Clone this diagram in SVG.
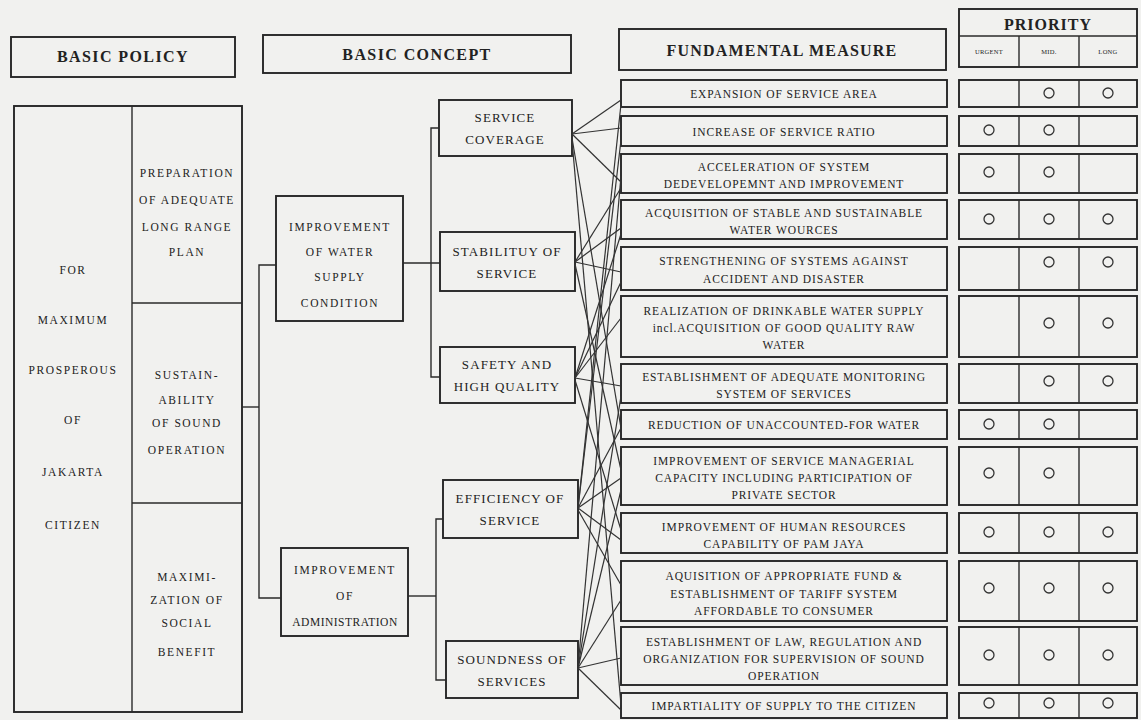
<svg xmlns="http://www.w3.org/2000/svg" width="1141" height="720" viewBox="0 0 1141 720">
<style>
.bg{fill:#f1f1ef}
.box{fill:none;stroke:#262626;stroke-width:1.9}
.thin{fill:none;stroke:#2a2a2a;stroke-width:1.4}
.ln{fill:none;stroke:#333;stroke-width:1.2}
.t{font-family:"Liberation Serif",serif;fill:#222;text-anchor:middle}
.h{font-size:16px;font-weight:bold;letter-spacing:1.4px}
.m{font-size:11.5px;letter-spacing:0.9px}
.c{font-size:13px;letter-spacing:1.1px}
.p{font-size:11.5px;letter-spacing:1.6px}
.s{font-size:6.5px;letter-spacing:0.3px}
.o{fill:none;stroke:#333;stroke-width:1.3}
</style>
<rect class="bg" x="0" y="0" width="1141" height="720"/>

<g id="header-basic-policy"><rect class="box" x="11" y="37" width="224" height="40"/><text class="t h" x="123" y="62">BASIC POLICY</text></g>
<g id="header-basic-concept"><rect class="box" x="263" y="35" width="308" height="38"/><text class="t h" x="417" y="60">BASIC CONCEPT</text></g>
<g id="header-fundamental-measure"><rect class="box" x="619" y="29" width="327" height="41"/><text class="t h" x="782" y="56" style="font-size:16px;letter-spacing:1.2px">FUNDAMENTAL MEASURE</text></g>
<g id="header-priority">
<rect class="box" x="959" y="9" width="178" height="58"/>
<line class="thin" x1="959" y1="36" x2="1137" y2="36"/>
<line class="thin" x1="1019" y1="36" x2="1019" y2="67"/>
<line class="thin" x1="1079" y1="36" x2="1079" y2="67"/>
<text class="t h" x="1048" y="30" style="font-size:16px;letter-spacing:1px">PRIORITY</text>
<text class="t s" x="989" y="54">URGENT</text>
<text class="t s" x="1049" y="54">MID.</text>
<text class="t s" x="1108" y="54">LONG</text>
</g>

<g id="basic-policy">
<rect class="box" x="14" y="106" width="228" height="606"/>
<line class="thin" x1="132" y1="106" x2="132" y2="712"/>
<line class="thin" x1="132" y1="303" x2="242" y2="303"/>
<line class="thin" x1="132" y1="503" x2="242" y2="503"/>
<text class="t p" x="73" y="274">FOR</text>
<text class="t p" x="73" y="324">MAXIMUM</text>
<text class="t p" x="73" y="374">PROSPEROUS</text>
<text class="t p" x="73" y="424">OF</text>
<text class="t p" x="73" y="476">JAKARTA</text>
<text class="t p" x="73" y="529">CITIZEN</text>
<text class="t p" x="187" y="177">PREPARATION</text>
<text class="t p" x="187" y="204">OF ADEQUATE</text>
<text class="t p" x="187" y="231">LONG RANGE</text>
<text class="t p" x="187" y="256">PLAN</text>
<text class="t p" x="187" y="379">SUSTAIN-</text>
<text class="t p" x="187" y="404">ABILITY</text>
<text class="t p" x="187" y="427">OF SOUND</text>
<text class="t p" x="187" y="454">OPERATION</text>
<text class="t p" x="187" y="581">MAXIMI-</text>
<text class="t p" x="187" y="604">ZATION OF</text>
<text class="t p" x="187" y="627">SOCIAL</text>
<text class="t p" x="187" y="656">BENEFIT</text>
</g>

<g id="concept-water-supply"><rect class="box" x="276" y="196" width="127" height="125"/>
<text class="t p" x="340" y="231">IMPROVEMENT</text><text class="t p" x="340" y="256">OF WATER</text><text class="t p" x="340" y="281">SUPPLY</text><text class="t p" x="340" y="307">CONDITION</text></g>
<g id="concept-administration"><rect class="box" x="281" y="548" width="127" height="88"/>
<text class="t p" x="345" y="574">IMPROVEMENT</text><text class="t p" x="345" y="600">OF</text><text class="t p" x="345" y="626" style="letter-spacing:0.5px">ADMINISTRATION</text></g>

<g id="concept-service-coverage"><rect class="box" x="439" y="100" width="133" height="56"/>
<text class="t c" x="505" y="122">SERVICE</text><text class="t c" x="505" y="144">COVERAGE</text></g>
<g id="concept-stability"><rect class="box" x="440" y="232" width="135" height="59"/>
<text class="t c" x="507" y="256">STABILITUY OF</text><text class="t c" x="507" y="278">SERVICE</text></g>
<g id="concept-safety"><rect class="box" x="440" y="347" width="135" height="56"/>
<text class="t c" x="507" y="369">SAFETY AND</text><text class="t c" x="507" y="391">HIGH QUALITY</text></g>
<g id="concept-efficiency"><rect class="box" x="443" y="480" width="135" height="58"/>
<text class="t c" x="510" y="503">EFFICIENCY OF</text><text class="t c" x="510" y="525">SERVICE</text></g>
<g id="concept-soundness"><rect class="box" x="446" y="641" width="132" height="57"/>
<text class="t c" x="512" y="664">SOUNDNESS OF</text><text class="t c" x="512" y="686">SERVICES</text></g>

<g id="measures">
<g id="m1"><rect class="box" x="621" y="80" width="326" height="27"/><text class="t m" x="784" y="98">EXPANSION OF SERVICE AREA</text></g>
<g id="m2"><rect class="box" x="621" y="116" width="326" height="30"/><text class="t m" x="784" y="136">INCREASE OF SERVICE RATIO</text></g>
<g id="m3"><rect class="box" x="621" y="154" width="326" height="39"/><text class="t m" x="784" y="171">ACCELERATION OF SYSTEM</text><text class="t m" x="784" y="188">DEDEVELOPEMNT AND IMPROVEMENT</text></g>
<g id="m4"><rect class="box" x="621" y="200" width="326" height="39"/><text class="t m" x="784" y="217">ACQUISITION OF STABLE AND SUSTAINABLE</text><text class="t m" x="784" y="234">WATER WOURCES</text></g>
<g id="m5"><rect class="box" x="621" y="247" width="326" height="43"/><text class="t m" x="784" y="265">STRENGTHENING OF SYSTEMS AGAINST</text><text class="t m" x="784" y="283">ACCIDENT AND DISASTER</text></g>
<g id="m6"><rect class="box" x="621" y="296" width="326" height="61"/><text class="t m" x="784" y="315">REALIZATION OF DRINKABLE WATER SUPPLY</text><text class="t m" x="784" y="332">incl.ACQUISITION OF GOOD QUALITY RAW</text><text class="t m" x="784" y="349">WATER</text></g>
<g id="m7"><rect class="box" x="621" y="364" width="326" height="39"/><text class="t m" x="784" y="381">ESTABLISHMENT OF ADEQUATE MONITORING</text><text class="t m" x="784" y="398">SYSTEM OF SERVICES</text></g>
<g id="m8"><rect class="box" x="621" y="410" width="326" height="29"/><text class="t m" x="784" y="429">REDUCTION OF UNACCOUNTED-FOR WATER</text></g>
<g id="m9"><rect class="box" x="621" y="447" width="326" height="58"/><text class="t m" x="784" y="465">IMPROVEMENT OF SERVICE MANAGERIAL</text><text class="t m" x="784" y="482">CAPACITY INCLUDING PARTICIPATION OF</text><text class="t m" x="784" y="499">PRIVATE SECTOR</text></g>
<g id="m10"><rect class="box" x="621" y="513" width="326" height="40"/><text class="t m" x="784" y="531">IMPROVEMENT OF HUMAN RESOURCES</text><text class="t m" x="784" y="548">CAPABILITY OF PAM JAYA</text></g>
<g id="m11"><rect class="box" x="621" y="561" width="326" height="60"/><text class="t m" x="784" y="580">AQUISITION OF APPROPRIATE FUND &amp;</text><text class="t m" x="784" y="598">ESTABLISHMENT OF TARIFF SYSTEM</text><text class="t m" x="784" y="615">AFFORDABLE TO CONSUMER</text></g>
<g id="m12"><rect class="box" x="621" y="627" width="326" height="58"/><text class="t m" x="784" y="646">ESTABLISHMENT OF LAW, REGULATION AND</text><text class="t m" x="784" y="663">ORGANIZATION FOR SUPERVISION OF SOUND</text><text class="t m" x="784" y="680">OPERATION</text></g>
<g id="m13"><rect class="box" x="621" y="693" width="326" height="25"/><text class="t m" x="784" y="710">IMPARTIALITY OF SUPPLY TO THE CITIZEN</text></g>
</g>

<g id="priority-rows">
<g id="pr1"><rect class="box" x="959" y="80" width="178" height="27"/><line class="thin" x1="1019" y1="80" x2="1019" y2="107"/><line class="thin" x1="1079" y1="80" x2="1079" y2="107"/><circle class="o" cx="1049" cy="93" r="5"/><circle class="o" cx="1108" cy="93" r="5"/></g>
<g id="pr2"><rect class="box" x="959" y="116" width="178" height="30"/><line class="thin" x1="1019" y1="116" x2="1019" y2="146"/><line class="thin" x1="1079" y1="116" x2="1079" y2="146"/><circle class="o" cx="989" cy="130" r="5"/><circle class="o" cx="1049" cy="130" r="5"/></g>
<g id="pr3"><rect class="box" x="959" y="154" width="178" height="39"/><line class="thin" x1="1019" y1="154" x2="1019" y2="193"/><line class="thin" x1="1079" y1="154" x2="1079" y2="193"/><circle class="o" cx="989" cy="172" r="5"/><circle class="o" cx="1049" cy="172" r="5"/></g>
<g id="pr4"><rect class="box" x="959" y="200" width="178" height="39"/><line class="thin" x1="1019" y1="200" x2="1019" y2="239"/><line class="thin" x1="1079" y1="200" x2="1079" y2="239"/><circle class="o" cx="989" cy="219" r="5"/><circle class="o" cx="1049" cy="219" r="5"/><circle class="o" cx="1108" cy="219" r="5"/></g>
<g id="pr5"><rect class="box" x="959" y="247" width="178" height="43"/><line class="thin" x1="1019" y1="247" x2="1019" y2="290"/><line class="thin" x1="1079" y1="247" x2="1079" y2="290"/><circle class="o" cx="1049" cy="262" r="5"/><circle class="o" cx="1108" cy="262" r="5"/></g>
<g id="pr6"><rect class="box" x="959" y="296" width="178" height="61"/><line class="thin" x1="1019" y1="296" x2="1019" y2="357"/><line class="thin" x1="1079" y1="296" x2="1079" y2="357"/><circle class="o" cx="1049" cy="323" r="5"/><circle class="o" cx="1108" cy="323" r="5"/></g>
<g id="pr7"><rect class="box" x="959" y="364" width="178" height="39"/><line class="thin" x1="1019" y1="364" x2="1019" y2="403"/><line class="thin" x1="1079" y1="364" x2="1079" y2="403"/><circle class="o" cx="1049" cy="381" r="5"/><circle class="o" cx="1108" cy="381" r="5"/></g>
<g id="pr8"><rect class="box" x="959" y="410" width="178" height="29"/><line class="thin" x1="1019" y1="410" x2="1019" y2="439"/><line class="thin" x1="1079" y1="410" x2="1079" y2="439"/><circle class="o" cx="989" cy="424" r="5"/><circle class="o" cx="1049" cy="424" r="5"/></g>
<g id="pr9"><rect class="box" x="959" y="447" width="178" height="58"/><line class="thin" x1="1019" y1="447" x2="1019" y2="505"/><line class="thin" x1="1079" y1="447" x2="1079" y2="505"/><circle class="o" cx="989" cy="473" r="5"/><circle class="o" cx="1049" cy="473" r="5"/></g>
<g id="pr10"><rect class="box" x="959" y="513" width="178" height="40"/><line class="thin" x1="1019" y1="513" x2="1019" y2="553"/><line class="thin" x1="1079" y1="513" x2="1079" y2="553"/><circle class="o" cx="989" cy="532" r="5"/><circle class="o" cx="1049" cy="532" r="5"/><circle class="o" cx="1108" cy="532" r="5"/></g>
<g id="pr11"><rect class="box" x="959" y="561" width="178" height="60"/><line class="thin" x1="1019" y1="561" x2="1019" y2="621"/><line class="thin" x1="1079" y1="561" x2="1079" y2="621"/><circle class="o" cx="989" cy="588" r="5"/><circle class="o" cx="1049" cy="588" r="5"/><circle class="o" cx="1108" cy="588" r="5"/></g>
<g id="pr12"><rect class="box" x="959" y="627" width="178" height="58"/><line class="thin" x1="1019" y1="627" x2="1019" y2="685"/><line class="thin" x1="1079" y1="627" x2="1079" y2="685"/><circle class="o" cx="989" cy="655" r="5"/><circle class="o" cx="1049" cy="655" r="5"/><circle class="o" cx="1108" cy="655" r="5"/></g>
<g id="pr13"><rect class="box" x="959" y="693" width="178" height="25"/><line class="thin" x1="1019" y1="693" x2="1019" y2="718"/><line class="thin" x1="1079" y1="693" x2="1079" y2="718"/><circle class="o" cx="989" cy="703" r="5"/><circle class="o" cx="1049" cy="703" r="5"/><circle class="o" cx="1108" cy="703" r="5"/></g>
</g>

<g id="connectors">
<polyline class="thin" points="276,265 259,265 259,598 281,598"/>
<line class="thin" x1="242" y1="407" x2="259" y2="407"/>
<line class="thin" x1="403" y1="263" x2="440" y2="263"/>
<polyline class="thin" points="439,128 431,128 431,377 440,377"/>
<line class="thin" x1="408" y1="596" x2="436" y2="596"/>
<polyline class="thin" points="443,519 436,519 436,680 446,680"/>

<line class="ln" x1="572" y1="134" x2="621" y2="100"/>
<line class="ln" x1="572" y1="134" x2="621" y2="128"/>
<line class="ln" x1="572" y1="134" x2="621" y2="182"/>
<line class="ln" x1="572" y1="138" x2="621" y2="428"/>
<line class="ln" x1="572" y1="140" x2="621" y2="705"/>

<line class="ln" x1="575" y1="262" x2="621" y2="188"/>
<line class="ln" x1="575" y1="262" x2="621" y2="228"/>
<line class="ln" x1="575" y1="262" x2="621" y2="272"/>
<line class="ln" x1="575" y1="264" x2="621" y2="470"/>

<line class="ln" x1="575" y1="378" x2="621" y2="234"/>
<line class="ln" x1="575" y1="378" x2="621" y2="282"/>
<line class="ln" x1="575" y1="378" x2="621" y2="318"/>
<line class="ln" x1="575" y1="378" x2="621" y2="386"/>
<line class="ln" x1="575" y1="380" x2="621" y2="530"/>

<line class="ln" x1="578" y1="508" x2="621" y2="104"/>
<line class="ln" x1="578" y1="508" x2="621" y2="140"/>
<line class="ln" x1="578" y1="508" x2="621" y2="428"/>
<line class="ln" x1="578" y1="508" x2="621" y2="478"/>
<line class="ln" x1="578" y1="508" x2="621" y2="540"/>
<line class="ln" x1="578" y1="510" x2="621" y2="585"/>

<line class="ln" x1="578" y1="668" x2="621" y2="176"/>
<line class="ln" x1="578" y1="668" x2="621" y2="396"/>
<line class="ln" x1="578" y1="668" x2="621" y2="490"/>
<line class="ln" x1="578" y1="668" x2="621" y2="600"/>
<line class="ln" x1="578" y1="668" x2="621" y2="658"/>
<line class="ln" x1="578" y1="668" x2="621" y2="710"/>
</g>
</svg>
